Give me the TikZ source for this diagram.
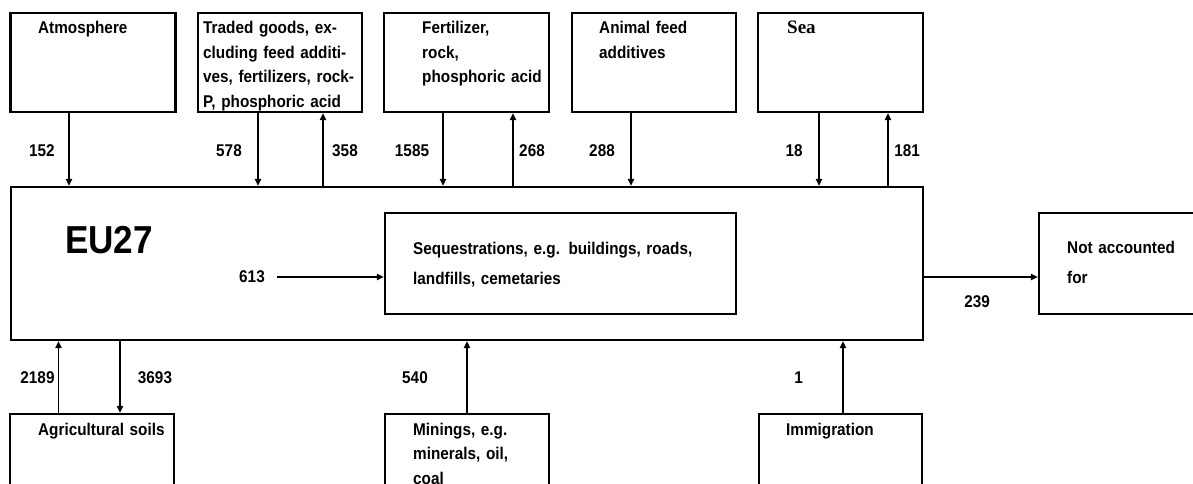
\documentclass[tikz,border=0pt]{standalone}
\usepackage{fontspec}
\setmainfont[FakeStretch=0.9]{Liberation Sans}
\newfontfamily\seafont{Liberation Serif}
\usetikzlibrary{arrows.meta,positioning}

\begin{document}
\begin{tikzpicture}[x=1pt,y=-1pt,font=\bfseries\fontsize{17}{24.5}\selectfont,
  box/.style={draw,line width=2.4pt,inner sep=0pt,minimum width=165pt,minimum height=99pt},
  txt/.style={anchor=base west,inner sep=0pt,align=left,text width=170pt},
  num/.style={inner sep=0pt},
  flow/.style={line width=1.1pt,-{Triangle[length=7pt,width=6.5pt]}}]

\clip (0,0) rectangle (1193,484);

% sources on top
\node[box] (atm) at (93,62.5) {};
\node[box,minimum width=164pt] (trade) at (280,62.5) {};
\node[box] (fert) at (466.5,62.5) {};
\node[box,minimum width=164pt] (feed) at (654,62.5) {};
\node[box] (sea) at (840.5,62.5) {};

\node[txt] (atmtext) at (38,34) {Atmosphere};
\node[txt] (tradetext) at (203,34) {Traded goods, ex-\\cluding feed additi-\\ves, fertilizers, rock-\\P, phosphoric acid};
\node[txt] (ferttext) at (422,34) {Fertilizer,\\rock,\\phosphoric acid};
\node[txt] (feedtext) at (599,34) {Animal feed\\additives};
\node[txt,font=\seafont\bfseries\fontsize{19}{24.5}\selectfont] (seatext) at (787,34) {Sea};

% the EU27 box
\node[box,minimum width=912pt,minimum height=153pt] (eu) at (467,263.5) {};
\node[txt,font=\bfseries\fontsize{39}{39}\selectfont] (eutext) at (65,253) {EU27};
\node[box,minimum width=351pt,minimum height=101pt] (seq) at (560.5,263.5) {};
\node[txt,text width=330pt,font=\bfseries\fontsize{17}{30}\selectfont] (seqtext) at (413,254)
  {Sequestrations, e.g. buildings, roads,\\landfills, cemetaries};
\node[box,minimum width=200pt,minimum height=101pt] (nac) at (1139,263.5) {};
\node[txt,font=\bfseries\fontsize{17}{30}\selectfont] (nactext) at (1067,253) {Not accounted\\for};

% sources below
\node[box,minimum width=164pt] (agri) at (92,463.5) {};
\node[box,minimum width=164pt] (mine) at (467,463.5) {};
\node[box,minimum width=163pt] (immi) at (840.5,463.5) {};
\node[txt] (agritext) at (38,435) {Agricultural soils};
\node[txt] (minetext) at (413,435) {Minings, e.g.\\minerals, oil,\\coal};
\node[txt] (immitext) at (786,435) {Immigration};

% flows
\draw[flow] ([xshift=-24pt]atm.south) -- ([xshift=-24pt]atm.south |- eu.north);
\draw[flow] ([xshift=-22pt]trade.south) -- ([xshift=-22pt]trade.south |- eu.north);
\draw[flow] ([xshift=43pt]trade.south |- eu.north) -- ([xshift=43pt]trade.south);
\draw[flow] ([xshift=-23.5pt]fert.south) -- ([xshift=-23.5pt]fert.south |- eu.north);
\draw[flow] ([xshift=46.5pt]fert.south |- eu.north) -- ([xshift=46.5pt]fert.south);
\draw[flow] ([xshift=-23pt]feed.south) -- ([xshift=-23pt]feed.south |- eu.north);
\draw[flow] ([xshift=-21.5pt]sea.south) -- ([xshift=-21.5pt]sea.south |- eu.north);
\draw[flow] ([xshift=47.5pt]sea.south |- eu.north) -- ([xshift=47.5pt]sea.south);

\draw[flow] ([xshift=-33.5pt]agri.north) -- ([xshift=-33.5pt]agri.north |- eu.south);
\draw[flow] ([xshift=28pt]agri.north |- eu.south) -- ([xshift=28pt]agri.north);
\draw[flow] (mine.north) -- (mine.north |- eu.south);
\draw[flow] ([xshift=2.5pt]immi.north) -- ([xshift=2.5pt]immi.north |- eu.south);

\node[num] (n613) at (252,277) {613};
\draw[flow] ([xshift=12pt]n613.east) -- (seq.west |- n613.east);
\draw[flow] ([yshift=-13.5pt]eu.east) -- ([yshift=-13.5pt]nac.west);

% flow values
\node[num] (n152) at (42,151) {152};
\node[num] (n578) at (229,151) {578};
\node[num] (n358) at (345,151) {358};
\node[num] (n1585) at (412,151) {1585};
\node[num] (n268) at (532,151) {268};
\node[num] (n288) at (602,151) {288};
\node[num] (n18) at (794,151) {18};
\node[num] (n181) at (907,151) {181};
\node[num] (n239) at (977,302) {239};
\node[num] (n2189) at (37.5,378) {2189};
\node[num] (n3693) at (155,378) {3693};
\node[num] (n540) at (415,378) {540};
\node[num] (n1) at (798.5,378) {1};

\end{tikzpicture}
\end{document}
